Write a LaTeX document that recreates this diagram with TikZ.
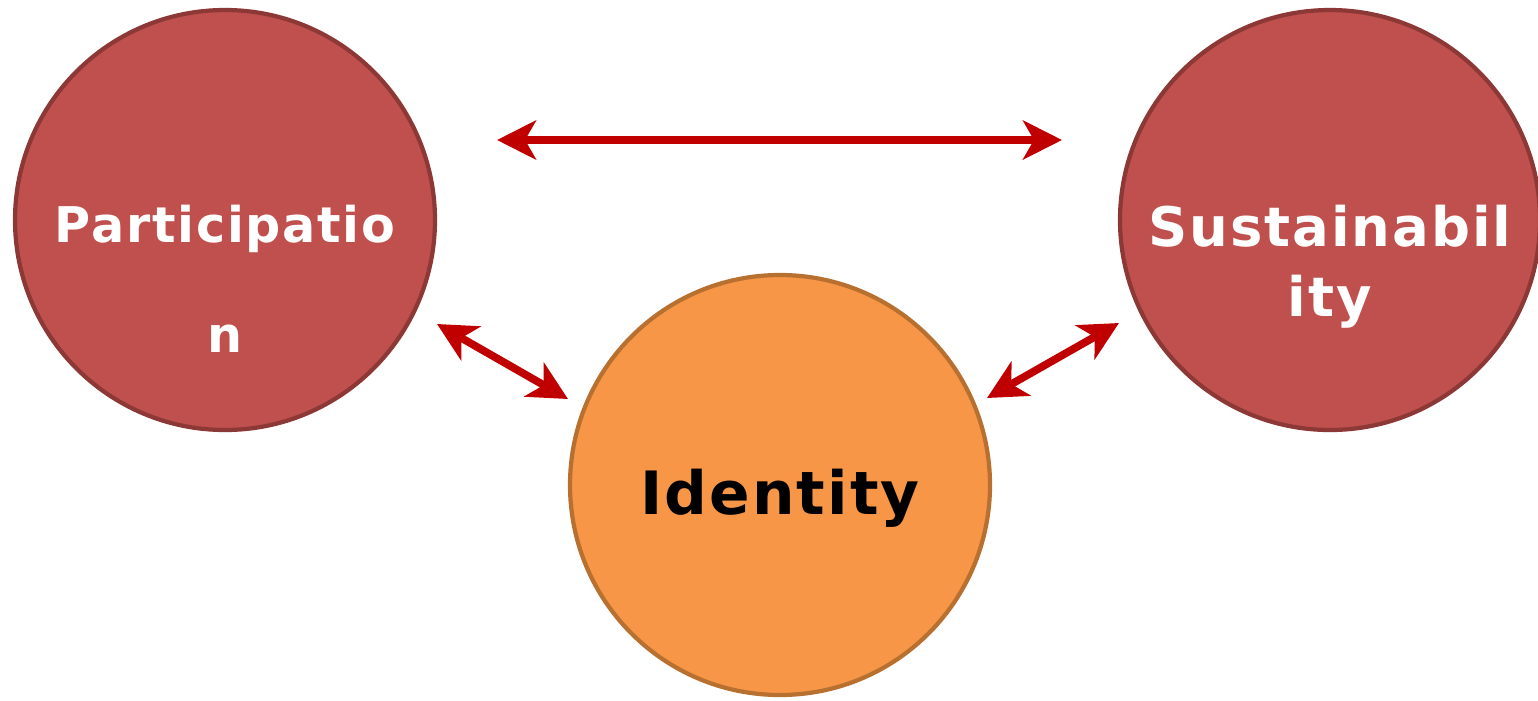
\documentclass[tikz,border=0pt]{standalone}
\definecolor{bubbleRed}{RGB}{192, 80, 77}
\definecolor{bubbleRedEdge}{RGB}{140, 56, 54}
\definecolor{bubbleOrange}{RGB}{247, 150, 70}
\definecolor{bubbleOrangeEdge}{RGB}{184, 112, 49}
\definecolor{linkRed}{RGB}{192, 0, 0}
\usepackage{fontspec}
\newfontfamily\bubfont{DejaVu Sans}[LetterSpace=3.5]
\usepackage{tikz}
\usetikzlibrary{positioning,calc,arrows.meta}

\begin{document}
\begin{tikzpicture}[
                bubble/.style={circle,minimum size=4.2cm,inner sep=0pt,outer sep=0pt,line width=1.2pt},
                bubtext/.style={text width=4.2cm,align=center,inner sep=0pt},
                link/.style={draw=linkRed,line width=2.2pt,
                            {Stealth[length=0.39cm,width=0.39cm,inset=0.11cm]}-{Stealth[length=0.39cm,width=0.39cm,inset=0.11cm]}}
            ]
                \useasboundingbox (0,0) rectangle (15.38,7);
                \node[bubble,fill=bubbleRed,draw=bubbleRedEdge] (part) at (2.25,4.80) {};
                \node[bubble,fill=bubbleOrange,draw=bubbleOrangeEdge] (iden) at (7.80,2.15) {};
                \node[bubble,fill=bubbleRed,draw=bubbleRedEdge] (sust) at (13.30,4.80) {};
                
                \node[bubtext,text=white,font=\bubfont\bfseries\fontsize{14}{17.9}\selectfont] (partText) at ($(part)+(0,-0.59)$) {Participatio\\[13.4pt]n};
                \node[bubtext,text=black,font=\bubfont\bfseries\fontsize{17}{21}\selectfont] (idenText) at ($(iden)+(0,-0.13)$) {Identity};
                \node[bubtext,text=white,font=\bubfont\bfseries\fontsize{15.5}{19.9}\selectfont] (sustText) at ($(sust)+(0,-0.47)$) {Sustainabil\\ity};
                
                \draw[link] ($(part.east)+(0.62,0.8)$) -- ($(sust.west)+(-0.58,0.8)$);
                \draw[link] ($(part)+(2.12,-1.04)$) -- ($(iden)+(-2.12,0.86)$);
                \draw[link] ($(iden)+(2.07,0.87)$) -- ($(sust)+(-2.11,-1.03)$);
            \end{tikzpicture}
\end{document}
